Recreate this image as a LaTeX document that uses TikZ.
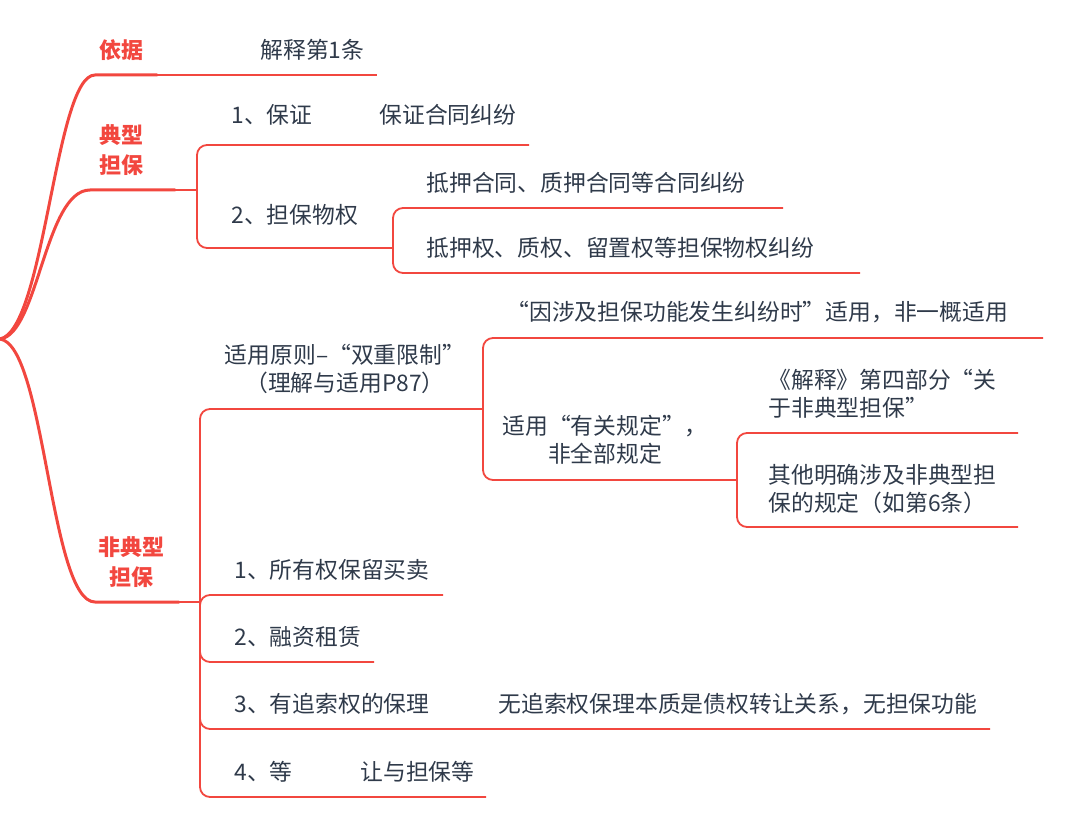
\documentclass[tikz,border=0pt]{standalone}
\usepackage{fontspec}
\setmainfont{Noto Sans CJK SC}
\usetikzlibrary{positioning}
\definecolor{mapred}{HTML}{F2473F}
\definecolor{textgray}{HTML}{2F3A4A}

\begin{document}
\begin{tikzpicture}[x=0.5pt,y=-0.5pt,
    lbl/.style={text=textgray,anchor=west,inner sep=0pt,font=\fontsize{11.4}{14}\selectfont},
    cat/.style={text=mapred,inner sep=0pt,align=center,font=\fontsize{11}{15}\selectfont\bfseries},
    trunk/.style={draw=mapred,line width=1.5pt,line cap=round},
    twig/.style={draw=mapred,line width=0.9pt,rounded corners=5pt}]
			\useasboundingbox (0,0) rectangle (1080,834);
			% junctions and line ends
			\coordinate (root) at (0,339);
			\coordinate (c1) at (95,75);   \coordinate (b1) at (157,75);  \coordinate (e1) at (377,75);
			\coordinate (c2) at (90,190);  \coordinate (b2) at (175,190); \coordinate (j2) at (197,190);
			\coordinate (e2a) at (529,145); \coordinate (j22) at (393,248);
			\coordinate (e22a) at (783,208); \coordinate (e22b) at (860,273);
			\coordinate (c3) at (95,602);  \coordinate (b3) at (179,602); \coordinate (j3) at (200,602);
			\coordinate (j31) at (483,409); \coordinate (e31a) at (1043,338);
			\coordinate (j32) at (737,480); \coordinate (e32a) at (1018,433); \coordinate (e32b) at (1018,527);
			\coordinate (e3b) at (443,595); \coordinate (e3c) at (374,662);
			\coordinate (e3d) at (990,729); \coordinate (e3e) at (486,797);
			% categories
			\node[cat](basis) at (121,50) {依据};
			\node[cat](typical) at (121,150) {典型\\担保};
			\node[cat](atypical) at (131,562) {非典型\\担保};
			% texts
			\node[lbl](art1) at (260,50) {解释第1条};
			\node[lbl](guar) at (231,115) {1、保证};
			\node[lbl](guarc) at (379,115) {保证合同纠纷};
			\node[lbl](real) at (231,215) {2、担保物权};
			\node[lbl](realc) at (426,183) {抵押合同、质押合同等合同纠纷};
			\node[lbl](reald) at (426,248) {抵押权、质权、留置权等担保物权纠纷};
			\node[lbl](only) at (506,312) {“因涉及担保功能发生纠纷时”适用，非一概适用};
			\node[lbl,anchor=center,align=center](rule) at (345,369) {适用原则–“双重限制”\\（理解与适用P87）};
			\node[lbl,anchor=center,align=center](rel) at (605,440) {适用“有关规定”，\\非全部规定};
			\node[lbl,align=left](part4) at (768,394) {《解释》第四部分“关\\于非典型担保”};
			\node[lbl,align=left](other) at (768,489) {其他明确涉及非典型担\\保的规定（如第6条）};
			\node[lbl](own) at (234,570) {1、所有权保留买卖};
			\node[lbl](lease) at (234,637) {2、融资租赁};
			\node[lbl](fact) at (234,704) {3、有追索权的保理};
			\node[lbl](factn) at (498,704) {无追索权保理本质是债权转让关系，无担保功能};
			\node[lbl](etc) at (234,772) {4、等};
			\node[lbl](trans) at (360,772) {让与担保等};
			% trunk curves
			\draw[trunk] (root) .. controls (45,330) and (55,75) .. (c1) -- (b1);
			\draw[trunk] (root) .. controls (38,335) and (45,190) .. (c2) -- (b2);
			\draw[trunk] (root) .. controls (45,345) and (50,602) .. (c3) -- (b3);
			% twigs
			\path[twig]
			(b1) edge (e1)
			(b2) edge (j2)
			(b3) edge (j3);
			\draw[twig] (j2) |- (e2a);
			\draw[twig] (j2) |- (j22);
			\draw[twig] (j22) |- (e22a);
			\draw[twig] (j22) |- (e22b);
			\draw[twig] (j3) |- (j31);
			\draw[twig] (j31) |- (e31a);
			\draw[twig] (j31) |- (j32);
			\draw[twig] (j32) |- (e32a);
			\draw[twig] (j32) |- (e32b);
			\draw[twig] (j3) |- (e3b);
			\draw[twig] (j3) |- (e3c);
			\draw[twig] (j3) |- (e3d);
			\draw[twig] (j3) |- (e3e);
			\end{tikzpicture}
\end{document}
